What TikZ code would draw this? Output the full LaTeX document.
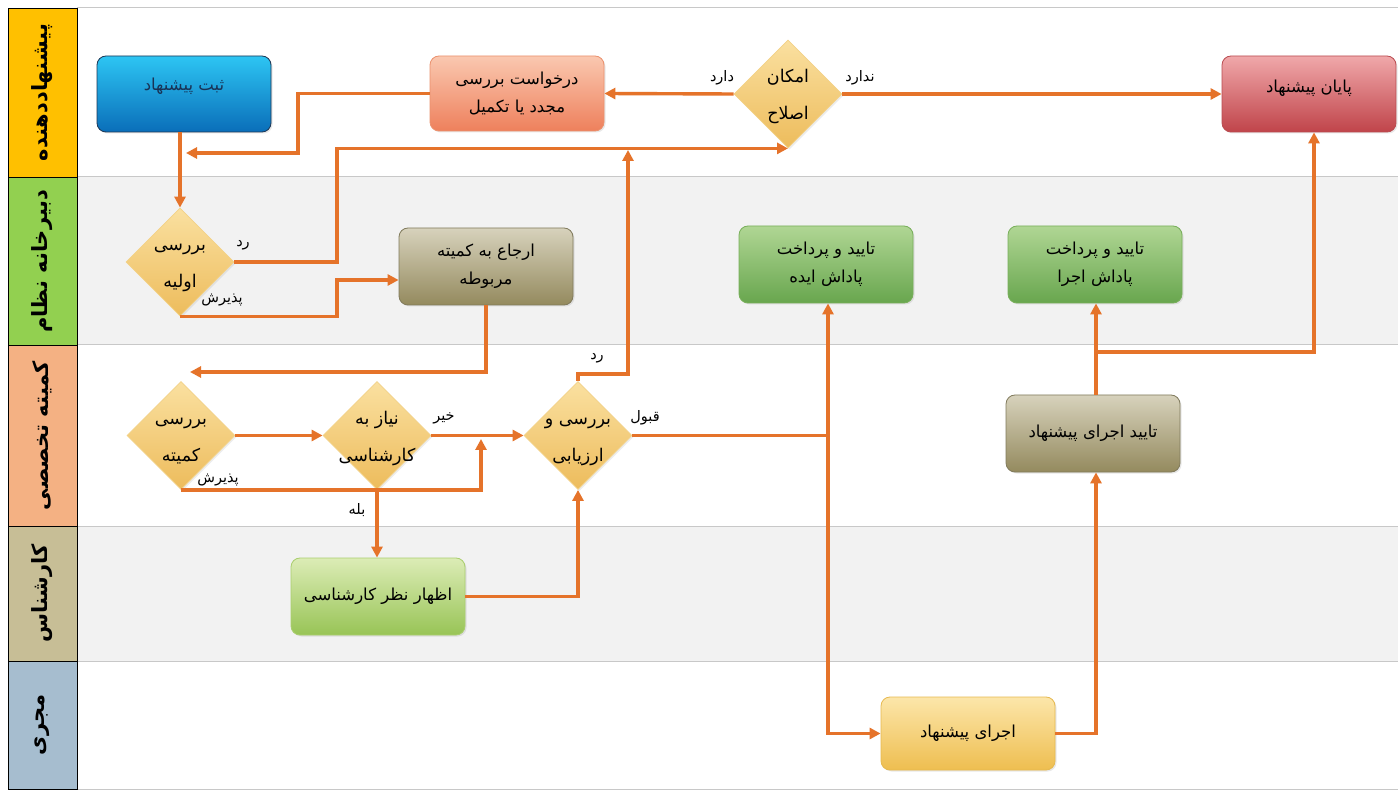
\documentclass[tikz,border=0pt]{standalone}
\usepackage{fontspec}
\newfontfamily\arabicfont[Script=Arabic]{DejaVu Sans}
\TeXXeTstate=1
\usetikzlibrary{shapes.geometric,arrows.meta,shadows}
\newcommand{\fatxt}[1]{{\arabicfont\beginR #1\endR}}
\newcommand{\dtxt}[1]{\makebox[0pt]{\fatxt{#1}}}
\definecolor{flowC}{HTML}{E5732A}
\definecolor{laneGray}{HTML}{F2F2F2}
\definecolor{laneLine}{HTML}{C8C8C8}
\definecolor{labA}{HTML}{FFC000}
\definecolor{labB}{HTML}{92D050}
\definecolor{labC}{HTML}{F4B183}
\definecolor{labD}{HTML}{C7BE96}
\definecolor{labE}{HTML}{A6BDCF}
\definecolor{diaT}{HTML}{FAE0A0}
\definecolor{diaB}{HTML}{EDBC5C}
\definecolor{diaD}{HTML}{F3D288}
\begin{document}
\begin{tikzpicture}[x=1pt,y=-1pt,
  box/.style={rectangle, rounded corners=9pt, minimum width=174pt, minimum height=76pt,
    inner sep=0pt, align=center, line width=0.8pt,
    font=\arabicfont\fontsize{16.5}{28}\selectfont,
    drop shadow={opacity=0.18, shadow xshift=1.5pt, shadow yshift=-1.5pt}},
  dia/.style={diamond, aspect=1, minimum width=108pt, minimum height=108pt, inner sep=0pt,
    align=center, top color=diaT, bottom color=diaB, draw=diaD, line width=0.8pt,
    text height=56pt, text depth=4pt,
    font=\arabicfont\fontsize{17.5}{37}\selectfont,
    drop shadow={opacity=0.15, shadow xshift=1.5pt, shadow yshift=-1.5pt}},
  flow/.style={draw=flowC, line width=3.4pt},
  arr/.style={flow, -{Triangle[length=11pt,width=11pt]}},
  lbl/.style={font=\arabicfont\fontsize{14.5}{17}\selectfont, inner sep=0pt},
  lanelab/.style={rectangle, draw=black, line width=0.8pt, inner sep=0pt, rotate=90,
    minimum height=69pt, font=\arabicfont\bfseries\fontsize{21}{24}\selectfont}
]
\useasboundingbox (0,0) rectangle (1398,791);
\fill[white] (0,0) rectangle (1398,791);
% lane backgrounds
\fill[laneGray] (77,177) rectangle (1398,345);
\fill[laneGray] (77,526) rectangle (1398,661);
\foreach \yy in {8,177,345,526,661,789} \draw[laneLine, line width=1pt] (77,\yy) -- (1398,\yy);
% lane labels
\node[lanelab, fill=labA, minimum width=169pt] (L1) at (42.5,92.5) {\fatxt{پیشنهاددهنده}};
\node[lanelab, fill=labB, minimum width=168pt] (L2) at (42.5,261) {\fatxt{دبیرخانه نظام}};
\node[lanelab, fill=labC, minimum width=181pt] (L3) at (42.5,435.5) {\fatxt{کمیته تخصصی}};
\node[lanelab, fill=labD, minimum width=135pt] (L4) at (42.5,593.5) {\fatxt{کارشناس}};
\node[lanelab, fill=labE, minimum width=128pt] (L5) at (42.5,725) {\fatxt{مجری}};

% nodes
\node[box, top color={rgb,255:red,45;green,197;blue,243}, bottom color={rgb,255:red,10;green,110;blue,185},
  draw={rgb,255:red,30;green,55;blue,85}, text={rgb,255:red,25;green,50;blue,85},
  text height=35pt, text depth=41pt] (sabt) at (184,94) {\fatxt{ثبت پیشنهاد}};
\node[box, top color={rgb,255:red,250;green,200;blue,176}, bottom color={rgb,255:red,238;green,128;blue,92},
  draw={rgb,255:red,235;green,145;blue,110}, minimum height=75pt] (darkhast) at (517,93.5)
  {\fatxt{درخواست بررسی}\\\fatxt{مجدد یا تکمیل}};
\node[dia] (amkan) at (788,94) {\dtxt{امکان}\\\dtxt{اصلاح}};
\node[box, top color={rgb,255:red,240;green,168;blue,170}, bottom color={rgb,255:red,192;green,68;blue,74},
  draw={rgb,255:red,185;green,75;blue,80}, text height=36pt, text depth=39pt] (payan) at (1309,94)
  {\fatxt{پایان پیشنهاد}};
\node[dia] (ebt) at (180,262) {\dtxt{بررسی}\\\dtxt{اولیه}};
\node[box, top color={rgb,255:red,215;green,210;blue,188}, bottom color={rgb,255:red,148;green,138;blue,94},
  draw={rgb,255:red,128;green,122;blue,92}, minimum height=77pt] (erja) at (486,266.5)
  {\fatxt{ارجاع به کمیته}\\\fatxt{مربوطه}};
\node[box, top color={rgb,255:red,176;green,214;blue,148}, bottom color={rgb,255:red,104;green,166;blue,78},
  draw={rgb,255:red,120;green,175;blue,90}, minimum height=77pt] (pide) at (826,264.5)
  {\fatxt{تایید و پرداخت}\\\fatxt{پاداش ایده}};
\node[box, top color={rgb,255:red,176;green,214;blue,148}, bottom color={rgb,255:red,104;green,166;blue,78},
  draw={rgb,255:red,120;green,175;blue,90}, minimum height=77pt] (pejra) at (1095,264.5)
  {\fatxt{تایید و پرداخت}\\\fatxt{پاداش اجرا}};
\node[dia] (komite) at (181,435.5) {\dtxt{بررسی}\\\dtxt{کمیته}};
\node[dia] (niaz) at (377,435.5) {\dtxt{نیاز به}\\\dtxt{کارشناسی}};
\node[dia] (arz) at (578,435.5) {\dtxt{بررسی و}\\\dtxt{ارزیابی}};
\node[box, top color={rgb,255:red,215;green,210;blue,188}, bottom color={rgb,255:red,148;green,138;blue,94},
  draw={rgb,255:red,128;green,122;blue,92}, minimum height=77pt] (taid) at (1093,433.5)
  {\fatxt{تایید اجرای پیشنهاد}};
\node[box, top color={rgb,255:red,220;green,236;blue,182}, bottom color={rgb,255:red,152;green,196;blue,86},
  draw={rgb,255:red,170;green,206;blue,110}, minimum height=77pt] (nazar) at (378,596.5)
  {\fatxt{اظهار نظر کارشناسی}};
\node[box, top color={rgb,255:red,252;green,230;blue,170}, bottom color={rgb,255:red,238;green,190;blue,80},
  draw={rgb,255:red,230;green,185;blue,80}, minimum height=73pt] (ejra) at (968,733.5)
  {\fatxt{اجرای پیشنهاد}};

% junction coordinates
\coordinate (j1) at (186,153);
\coordinate (j2) at (190,372);
\coordinate (j3) at (481,439);
\coordinate (j4) at (628,150);
\coordinate (qa) at (828,435.5);
\coordinate (qb) at (1096,352);

% connectors
\draw[arr] (amkan.west) -- (darkhast.east);
\draw[arr] (amkan.east) -- (payan.west);
\draw[arr] (darkhast.west) -| (298,153) -- (j1);
\draw[arr] (sabt.south -| ebt.north) -- (ebt.north);
\draw[arr] (ebt.east) -| (337,200) |- (amkan.south);
\draw[arr] (ebt.south) -| (337,298) |- ([yshift=-13.5pt]erja.west);
\draw[arr] (erja.south) |- (j2);
\draw[arr] (komite.east) -- (niaz.west);
\draw[arr] (niaz.east) -- (arz.west);
\draw[arr] (komite.south) -| (j3);
\draw[arr] (niaz.south) -- (nazar.north -| niaz.south);
\draw[arr] (nazar.east) -| (arz.south);
\draw[arr] (arz.north) -- ++(0,-7) -| (j4);
\draw[flow] (arz.east) -- (qa);
\draw[arr] (qa) -- (qa |- pide.south);
\draw[arr] (qa) |- (ejra.west);
\draw[arr] (ejra.east) -| (taid.south -| qb);
\draw[flow] (taid.north -| qb) -- (qb);
\draw[arr] (qb) -- (qb |- pejra.south);
\draw[arr] (qb) -| (payan.south -| 1314,0);

% edge labels
\node[lbl] (t1) at (722,78) {\fatxt{دارد}};
\node[lbl] (t2) at (860,78) {\fatxt{ندارد}};
\node[lbl] (t3) at (243,245) {\fatxt{رد}};
\node[lbl] (t4) at (222,300) {\fatxt{پذیرش}};
\node[lbl] (t5) at (597,358) {\fatxt{رد}};
\node[lbl] (t6) at (444,418) {\fatxt{خیر}};
\node[lbl] (t7) at (645,418) {\fatxt{قبول}};
\node[lbl] (t8) at (218,480) {\fatxt{پذیرش}};
\node[lbl] (t9) at (357,510) {\fatxt{بله}};
\end{tikzpicture}
\end{document}
